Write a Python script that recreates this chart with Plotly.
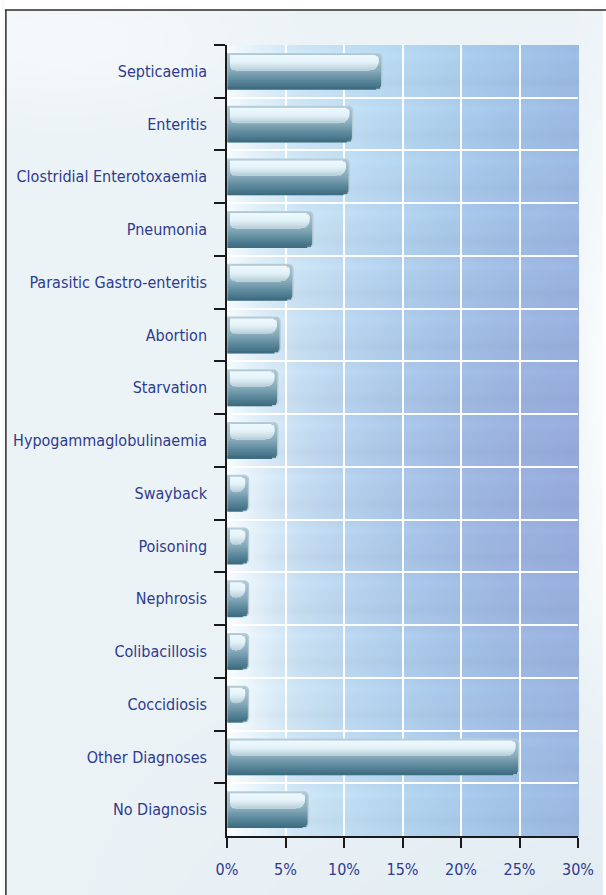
import base64, struct, zlib
import numpy as np
import plotly.graph_objects as go

# ---------------- data ----------------
categories = [
    "Septicaemia", "Enteritis", "Clostridial Enterotoxaemia", "Pneumonia",
    "Parasitic Gastro-enteritis", "Abortion", "Starvation",
    "Hypogammaglobulinaemia", "Swayback", "Poisoning", "Nephrosis",
    "Colibacillosis", "Coccidiosis", "Other Diagnoses", "No Diagnosis",
]
values = [13.3, 10.8, 10.5, 7.4, 5.7, 4.6, 4.4, 4.4, 1.9, 1.9, 1.9, 1.9, 1.9, 25.0, 7.0]
x_tickvals = [0, 5, 10, 15, 20, 25, 30]
x_ticktext = ["0%", "5%", "10%", "15%", "20%", "25%", "30%"]

# ---------------- geometry ----------------
W, H = 606, 895
ML, MR, MT, MB = 227, 25, 45, 59
PW, PH = W - ML - MR, H - MT - MB
XMAX = 30.0
PX_PER_UNIT = PW / XMAX
CAT_PX = PH / len(categories)
BAR_W = 0.70
FONT = "DejaVu Sans Condensed, Liberation Sans Narrow, sans-serif"
NAVY = "#2e3b8f"


def interp_stops(stops, t):
    t = np.clip(t, 0, 1)
    pos = np.array([s[0] for s in stops])
    cols = np.array([s[1] for s in stops], dtype=float)
    return np.stack([np.interp(t, pos, cols[:, k]) for k in range(3)], axis=-1)


def hexc(rgb):
    return "#%02x%02x%02x" % tuple(int(round(c)) for c in rgb)


# ---------------- background image ----------------
def make_background():
    yy, xx = np.mgrid[0:H, 0:W].astype(float)
    img = np.zeros((H, W, 3))
    base_out = np.array([236, 243, 247], float)
    glow = np.exp(-(((xx - 60) / 160) ** 2 + ((yy - 40) / 60) ** 2))
    right = np.clip((xx - 560) / 40, 0, 1) * np.exp(-((yy - 380) / 260) ** 2)
    bottom = np.clip((yy - 600) / 300, 0, 1) * np.clip(xx / W, 0, 1)
    img[:] = base_out
    img = img + (255 - img) * (0.5 * glow + 0.7 * right)[..., None]
    img = img - (np.array([10, 7, 5]) * bottom[..., None])

    u = (xx - ML) / PW
    v = (yy - MT) / PH
    light_stops = [
        (0.0, (246, 251, 253)), (0.08, (226, 241, 250)), (0.2, (206, 230, 245)),
        (0.35, (193, 223, 243)), (0.5, (182, 216, 240)), (0.67, (171, 206, 236)),
        (0.83, (162, 196, 231)), (1.0, (156, 187, 227)),
    ]
    dark = np.array([150, 168, 217], float)
    pl = interp_stops(light_stops, u)
    m = np.clip(u, 0, 1) ** 1.1 * np.exp(-((v - 0.55) / 0.32) ** 2) * 0.85
    pl = pl + (dark - pl) * m[..., None]
    wl = np.exp(-((np.clip(u, 0, 1)) / 0.12) ** 2) * np.clip((v - 0.3) / 0.7, 0, 1) * 0.4
    pl = pl + (255 - pl) * wl[..., None]
    rowf = (v * len(categories)) % 1.0
    streak = 0.02 * np.exp(-((rowf - 0.7) / 0.1) ** 2) - 0.02 * np.exp(-((rowf - 0.2) / 0.1) ** 2)
    streak = streak * np.clip(u / 0.15, 0, 1)
    pl = pl * (1 - streak[..., None])
    inside = (u >= 0) & (u <= 1) & (v >= 0) & (v <= 1)
    img[inside] = pl[inside]
    img[yy < 10] = 255
    img[xx < 3] = 250
    img = np.clip(img, 0, 255).astype(np.uint8)

    raw = b"".join(b"\x00" + img[r].tobytes() for r in range(H))

    def chunk(tag, data):
        c = struct.pack(">I", len(data)) + tag + data
        return c + struct.pack(">I", zlib.crc32(tag + data) & 0xFFFFFFFF)

    png = b"\x89PNG\r\n\x1a\n"
    png += chunk(b"IHDR", struct.pack(">IIBBBBB", W, H, 8, 2, 0, 0, 0))
    png += chunk(b"IDAT", zlib.compress(raw, 9))
    png += chunk(b"IEND", b"")
    return "data:image/png;base64," + base64.b64encode(png).decode()


fig = go.Figure()

px2u = 1.0 / PX_PER_UNIT
px2c = 1.0 / CAT_PX
R_PX = 5.0
bar_px = BAR_W * CAT_PX
OVERLAP = 0.8 * px2c


def arc_clip(d_px, r_px):
    if d_px >= r_px:
        return 0.0
    dy = r_px - d_px
    return r_px - np.sqrt(max(r_px ** 2 - dy ** 2, 0.0))


# rim (whole bar)
fig.add_trace(go.Bar(
    y=categories, x=values, orientation="h", width=BAR_W,
    marker=dict(color="#b6ccd7", line=dict(width=0), cornerradius=R_PX),
    hoverinfo="skip", showlegend=False,
))

# body gradient bands
body_stops = [(0.0, (172, 198, 210)), (0.45, (136, 172, 188)), (0.72, (94, 138, 157)), (1.0, (58, 105, 126))]
N_BODY = 18
top_pad = 1.5
body_h = bar_px - top_pad
for i in range(N_BODY):
    d_top = top_pad + i / N_BODY * body_h
    d_bot = top_pad + (i + 1) / N_BODY * body_h
    clip = arc_clip(min(d_top, bar_px - d_bot), R_PX) + 1.5
    col = hexc(interp_stops(body_stops, np.array((i + 0.5) / N_BODY)))
    fig.add_trace(go.Bar(
        y=categories, x=[max(v - clip * px2u - 0.05, 0.01) for v in values],
        base=0.05, orientation="h",
        width=body_h / N_BODY * px2c + (OVERLAP if i < N_BODY - 1 else 0),
        offset=-BAR_W / 2 + d_top * px2c,
        marker=dict(color=col, line=dict(width=0)),
        hoverinfo="skip", showlegend=False,
    ))

# glossy highlight bands
hl_top, hl_bot = 2.0, 17.5
hl_h = hl_bot - hl_top
hl_stops = [(0.0, (238, 249, 253)), (0.45, (228, 243, 249)), (1.0, (184, 206, 216))]
N_HL = 12
R_HL = 9.0
for i in range(N_HL):
    d_top = hl_top + i / N_HL * hl_h
    d_from_bottom = hl_bot - (d_top + hl_h / N_HL)
    clip_r = arc_clip(d_from_bottom, R_HL) + arc_clip(d_top - hl_top, 3.0)
    clip_l = arc_clip(d_from_bottom, R_HL * 0.6)
    col = hexc(interp_stops(hl_stops, np.array((i + 0.5) / N_HL)))
    left = (3.0 + clip_l) * px2u
    right_inset = (4.0 + clip_r) * px2u
    fig.add_trace(go.Bar(
        y=categories, x=[max(v - left - right_inset, 0.01) for v in values],
        base=[left] * len(values), orientation="h",
        width=hl_h / N_HL * px2c + (OVERLAP if i < N_HL - 1 else 0),
        offset=-BAR_W / 2 + d_top * px2c,
        marker=dict(color=col, line=dict(width=0)),
        hoverinfo="skip", showlegend=False,
    ))

fig.update_layout(
    width=W, height=H,
    margin=dict(l=ML, r=MR, t=MT, b=MB, pad=0),
    barmode="overlay",
    paper_bgcolor="white",
    plot_bgcolor="rgba(0,0,0,0)",
    font=dict(family=FONT, color=NAVY, size=16),
    images=[dict(
        source=make_background(), xref="paper", yref="paper",
        x=-ML / PW, y=1 + MT / PH, sizex=W / PW, sizey=H / PH,
        xanchor="left", yanchor="top", sizing="stretch", layer="below",
    )],
    shapes=[
        dict(type="line", xref="paper", yref="paper",
             x0=(3 - ML) / PW, x1=(W + 5 - ML) / PW,
             y0=(PH + MT - 10) / PH, y1=(PH + MT - 10) / PH,
             line=dict(color="#2b2b2b", width=1.5)),
        dict(type="line", xref="paper", yref="paper",
             x0=(4 - ML) / PW, x1=(4 - ML) / PW,
             y0=(PH + MT - 10) / PH, y1=-(MB + 5) / PH,
             line=dict(color="#2b2b2b", width=1.5)),
    ],
    xaxis=dict(
        range=[0, XMAX], tickvals=x_tickvals, ticktext=x_ticktext,
        showgrid=True, gridcolor="white", gridwidth=1.5,
        showline=True, linecolor="#1a1a1a", linewidth=1.5,
        ticks="outside", ticklen=10, tickwidth=1.5, tickcolor="#1a1a1a",
        tickfont=dict(family=FONT, size=16, color=NAVY),
        ticklabelstandoff=8, zeroline=False, fixedrange=True,
    ),
    yaxis=dict(
        categoryorder="array", categoryarray=categories,
        autorange="reversed", tickson="boundaries",
        showgrid=True, gridcolor="white", gridwidth=1.5,
        showline=True, linecolor="#1a1a1a", linewidth=1.5,
        ticks="outside", ticklen=11, tickwidth=1.5, tickcolor="#1a1a1a",
        tickfont=dict(family=FONT, size=16, color=NAVY),
        ticklabelstandoff=15, zeroline=False, fixedrange=True,
    ),
)

fig.write_html(
    "out.html",
    config={"displayModeBar": False, "responsive": False},
    post_script="document.body.style.margin='0';document.body.style.padding='0';",
)
